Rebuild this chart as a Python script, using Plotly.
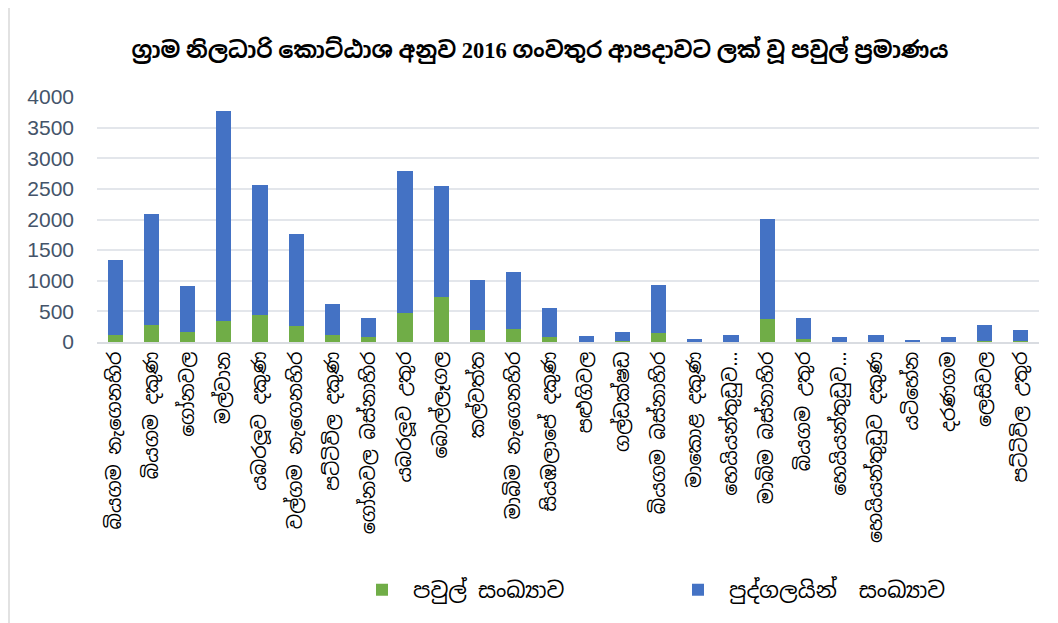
import plotly.graph_objects as go

categories = [
    "බියගම නැගෙනහිර", "බියගම දකුණ", "ගෝනවල", "මල්වාන", "යබරලූව දකුණ",
    "වල්ගම නැගෙනහිර", "පට්ටිවිල දකුණ", "ගෝනවල බස්නාහිර", "යබරලූව උතුර", "බොල්ලෑගල",
    "කල්වත්ත", "මාබිම නැගෙනහිර", "සියඹලාපේ දකුණ", "පළුගිවල", "ගල්ඩක්ෂඩ",
    "බියගම බස්නාහිර", "මාකොළ දකුණ", "හෙයියන්තුඩුව…", "මාබිම බස්නාහිර", "බියගම උතුර",
    "හෙයියන්තුඩුව…", "හෙයියන්තුඩුව දකුණ", "යටිහේන", "දරණගම", "ලෙසිවල",
    "පට්ටිවිල උතුර",
]

families = [114, 278, 164, 349, 441, 262, 114, 82, 474, 736,
            196, 213, 82, 5, 16, 148, 3, 6, 379, 49,
            4, 6, 2, 4, 16, 16]

totals = [1341, 2093, 916, 3777, 2567, 1766, 621, 392, 2796, 2551,
          1014, 1145, 560, 99, 165, 923, 49, 115, 2011, 396,
          82, 115, 33, 82, 280, 198]

persons = [t - f for t, f in zip(totals, families)]

series_names = ["\u00a0පවුල් සංඛ්‍යාව", "\u00a0පුද්ගලයින්\u00a0 සංඛ්‍යාව"]
y_ticks = [0, 500, 1000, 1500, 2000, 2500, 3000, 3500, 4000]

title_text = "ග්‍රාම නිලධාරි කොට්ඨාශ අනුව 2016 ගංවතුර ආපදාවට ලක් වූ පවුල් ප්‍රමාණය"

x_idx = list(range(len(categories)))

# page body has an 8px margin, so the figure is sized/offset to compensate
L, T, PW, PH = 89, 89, 942, 245

fig = go.Figure()
fig.add_trace(go.Bar(x=x_idx, y=families, name=series_names[0],
                     marker=dict(color="#70AD47", line=dict(width=0))))
fig.add_trace(go.Bar(x=x_idx, y=persons, name=series_names[1],
                     marker=dict(color="#4472C4", line=dict(width=0))))

fig.update_layout(
    width=1050, height=615,
    barmode="stack",
    bargap=0.58,
    paper_bgcolor="white",
    plot_bgcolor="white",
    margin=dict(l=L, r=1050 - L - PW, t=T, b=615 - T - PH),
    title=dict(text="<b>" + title_text + "</b>", x=(540 - 8) / 1050, xanchor="center",
               y=1 - (50 - 8) / 615, yanchor="middle",
               font=dict(family="Liberation Serif, Noto Sans Sinhala, serif", size=22.5, color="#000000")),
    showlegend=True,
    legend=dict(orientation="h", x=(354 - L) / PW, xanchor="left", y=-1.012, yanchor="middle",
                traceorder="normal", entrywidth=271, entrywidthmode="pixels",
                font=dict(size=22, color="#000000", family="Noto Sans Sinhala, Noto Sans, sans-serif")),
    font=dict(family="Noto Sans Sinhala, Noto Sans, sans-serif"),
)

fig.update_xaxes(
    tickmode="array", tickvals=x_idx, ticktext=categories,
    tickangle=-90, range=[-0.5, len(categories) - 0.5],
    tickfont=dict(size=19, color="#000000"),
    showline=True, linecolor="#D9DCE1", linewidth=2,
    showgrid=False, ticks="",
)
fig.update_yaxes(
    range=[0, 4000], tickvals=y_ticks,
    tickfont=dict(size=21, color="#44546A", family="Liberation Sans, Arial, sans-serif"),
    showgrid=True, gridcolor="#E3E6EB", gridwidth=2,
    zeroline=False, showline=False, ticks="", ticklabelstandoff=22,
)

fig.add_shape(type="line", xref="paper", yref="paper",
              x0=(1 - L) / PW, x1=(1 - L) / PW, y0=-(615 - T - PH) / PH, y1=(PH + T) / PH,
              line=dict(color="#D9D9D9", width=1.5))

fig.write_html("out.html")
